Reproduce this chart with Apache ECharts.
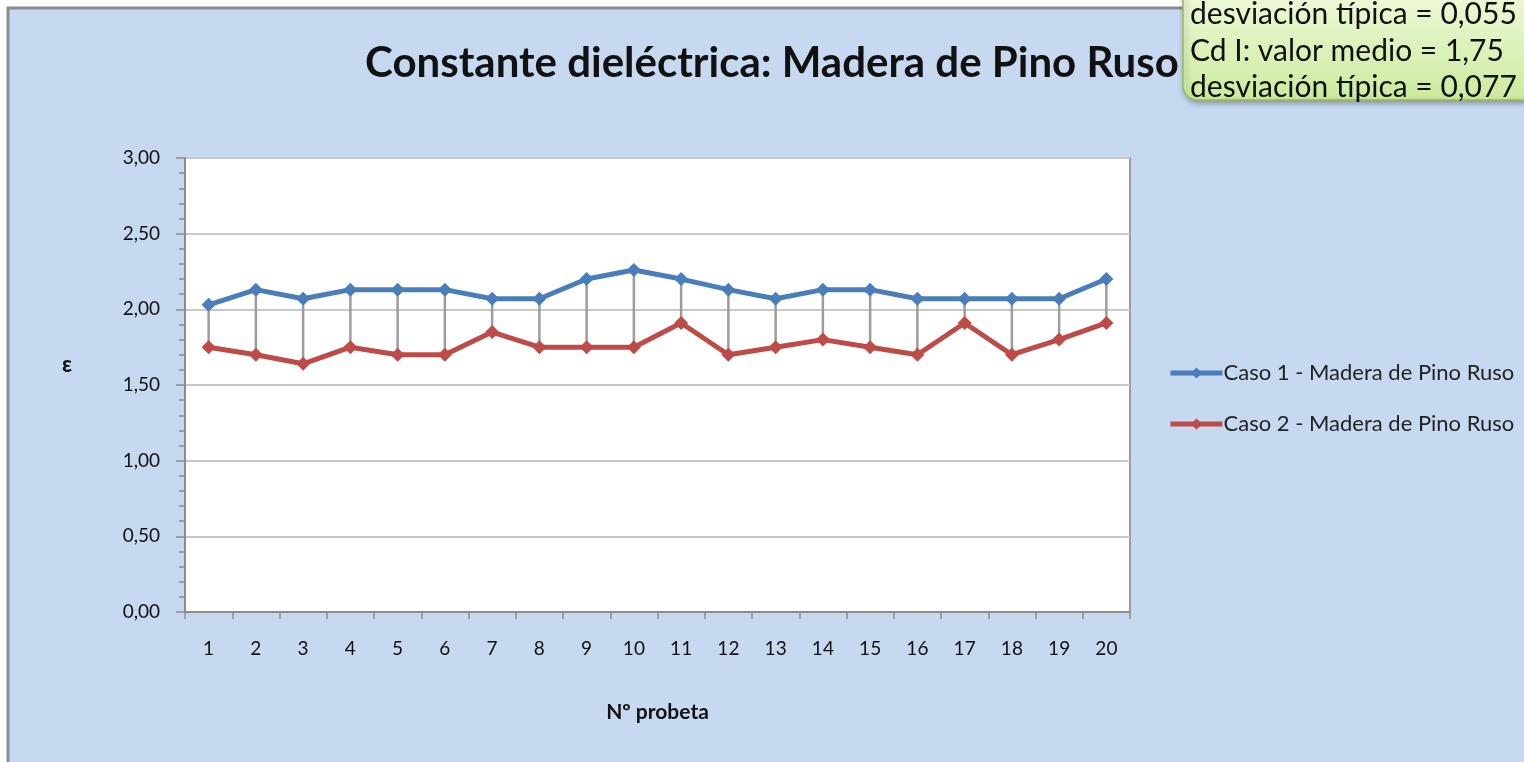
<!DOCTYPE html>
<html><head><meta charset="utf-8">
<script src="https://cdn.jsdelivr.net/npm/echarts@6/dist/echarts.min.js"></script>
<style>html,body{margin:0;padding:0;background:#fff;}#c{width:1524px;height:762px;}</style>
</head><body><div id="c"></div>
<script>
const categories = ['1','2','3','4','5','6','7','8','9','10','11','12','13','14','15','16','17','18','19','20'];
const caso1 = [2.03,2.13,2.07,2.13,2.13,2.13,2.07,2.07,2.20,2.26,2.20,2.13,2.07,2.13,2.13,2.07,2.07,2.07,2.07,2.20];
const caso2 = [1.75,1.70,1.64,1.75,1.70,1.70,1.85,1.75,1.75,1.75,1.91,1.70,1.75,1.80,1.75,1.70,1.91,1.70,1.80,1.91];
const seriesNames = ['Caso 1 - Madera de Pino Ruso','Caso 2 - Madera de Pino Ruso'];
const titleText = 'Constante dieléctrica: Madera de Pino Ruso';
const calloutLines = ['desviación típica = 0,055','Cd I: valor medio = 1,75','desviación típica = 0,077'];
const yTicks = ['0,00','0,50','1,00','1,50','2,00','2,50','3,00'];

const FONT = 'Lato, "Open Sans", sans-serif';
const chart = echarts.init(document.getElementById('c'));
const hiLow = categories.map((c,i)=>[i, caso1[i], caso2[i]]);

chart.setOption({
  animation:false,
  backgroundColor:'#ffffff',
  graphic:[
    {type:'rect', z:-10, silent:true, shape:{x:8,y:8,width:1530,height:770},
     style:{fill:'#c6d9f0', stroke:'#8c8c8c', lineWidth:3}},
    {type:'group', z:100, children:[
      {type:'rect', shape:{x:1183,y:-20,width:360,height:120,r:14},
       style:{fill:new echarts.graphic.LinearGradient(0,0,0,1,[{offset:0,color:'#f2fbe0'},{offset:1,color:'#cdea9e'}]),
              stroke:'#9bbb59', lineWidth:1.5, shadowBlur:6, shadowColor:'rgba(0,0,0,0.35)', shadowOffsetX:2, shadowOffsetY:2}},
      {type:'text', style:{x:1190,y:14,text:calloutLines[0],font:'30px '+FONT,fill:'#111',verticalAlign:'middle'}},
      {type:'text', style:{x:1190,y:51,text:calloutLines[1],font:'30px '+FONT,fill:'#111',verticalAlign:'middle'}},
      {type:'text', style:{x:1190,y:87,text:calloutLines[2],font:'30px '+FONT,fill:'#111',verticalAlign:'middle'}}
    ]}
  ],
  title:{text:titleText, left:767, top:58, textAlign:'center', textVerticalAlign:'middle',
    textStyle:{fontFamily:FONT, fontWeight:'bold', fontSize:42, color:'#111'}},
  legend:{orient:'vertical', left:1163, top:357, itemGap:29, itemWidth:52, itemHeight:14,
    lineStyle:{width:5},
    textStyle:{fontFamily:FONT, fontSize:22, color:'#222', padding:[0,0,0,-4]},
    data:seriesNames},
  grid:{left:185, top:158, width:945, height:454, show:true, backgroundColor:'#ffffff',
    borderColor:'#9a9a9a', borderWidth:2},
  xAxis:{type:'category', data:categories, boundaryGap:true,
    name:'Nº probeta', nameLocation:'middle', nameGap:90,
    nameTextStyle:{fontFamily:FONT, fontWeight:'bold', fontSize:21, color:'#111'},
    axisLine:{lineStyle:{color:'#8c8c8c', width:2}},
    axisTick:{show:true, length:7, alignWithLabel:false, lineStyle:{color:'#8c8c8c', width:1.5}},
    axisLabel:{fontFamily:FONT, fontSize:19, color:'#111', margin:27},
    splitLine:{show:false}},
  yAxis:{type:'value', min:0, max:3, interval:0.5,
    name:'ε', nameLocation:'middle', nameGap:113, nameRotate:0,
    nameTextStyle:{fontFamily:FONT, fontWeight:'bold', fontSize:22, color:'#111', verticalAlign:'bottom', lineHeight:40},
    axisLine:{show:true, lineStyle:{color:'#8c8c8c', width:2}},
    axisTick:{show:true, length:9, lineStyle:{color:'#8c8c8c', width:1.5}},
    minorTick:{show:true, splitNumber:5, length:6, lineStyle:{color:'#8c8c8c', width:1.5}},
    axisLabel:{fontFamily:FONT, fontSize:19, color:'#111', margin:25,
      formatter:(v,i)=>yTicks[i]},
    splitLine:{show:true, lineStyle:{color:'#c8c8c8', width:2}}},
  series:[
    {type:'custom', name:'hilo', data:hiLow, z:1, silent:true,
     renderItem:(params, api)=>{
       const a = api.coord([api.value(0), api.value(1)]);
       const b = api.coord([api.value(0), api.value(2)]);
       return {type:'line', shape:{x1:a[0],y1:a[1],x2:b[0],y2:b[1]}, style:{stroke:'#9c9c9c', lineWidth:2.5}};
     }},
    {type:'line', name:seriesNames[0], data:caso1, z:3, symbol:'diamond', symbolSize:14,
     lineStyle:{color:'#4a7ebb', width:5}, itemStyle:{color:'#4a7ebb'}},
    {type:'line', name:seriesNames[1], data:caso2, z:3, symbol:'diamond', symbolSize:14,
     lineStyle:{color:'#be4b48', width:5}, itemStyle:{color:'#be4b48'}}
  ]
});
</script></body></html>
